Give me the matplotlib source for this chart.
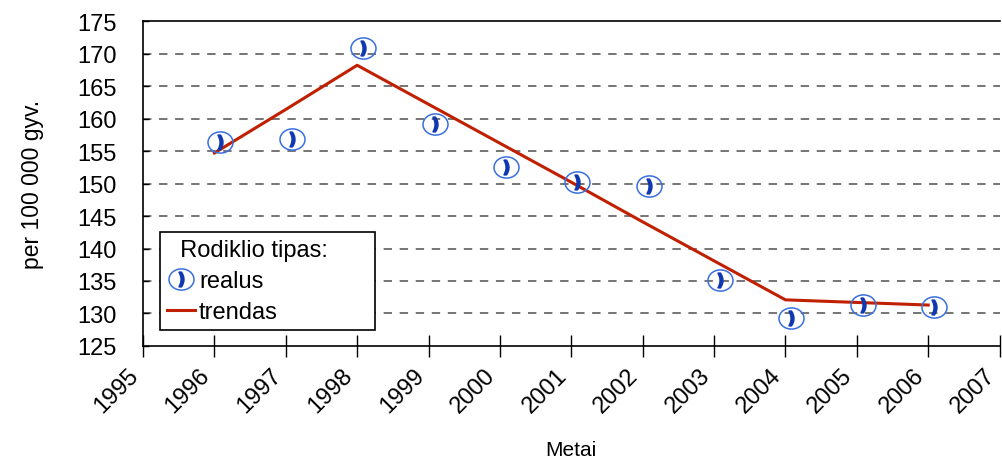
import numpy as np
import matplotlib.pyplot as plt
import matplotlib.transforms as mtransforms
from matplotlib.path import Path

plt.rcParams['font.family'] = ['Liberation Sans', 'DejaVu Sans']

# data
years = [1996, 1997, 1998, 1999, 2000, 2001, 2002, 2003, 2004, 2005, 2006]
realus = [156.4, 156.8, 170.8, 159.2, 152.5, 150.2, 149.6, 135.2, 129.3, 131.3, 131.0]
trendas = [154.7, 161.4, 168.2, 162.2, 156.2, 150.2, 144.1, 138.1, 132.1, 131.7, 131.3]
xticks = list(range(1995, 2008))
yticks = list(range(125, 180, 5))

fig = plt.figure(figsize=(10.03, 4.6), dpi=100)
ax = fig.add_axes([0.1426, 0.2457, 0.854, 0.7063])

# dashed horizontal grid
for yv in yticks[1:-1]:
    ax.axhline(yv, color='#505050', lw=1.1, ls=(0, (5.5, 5)), zorder=1)

ln, = ax.plot(years, trendas, color='#c02000', lw=2.2, zorder=2)

# phone-in-ellipse marker: a flat ellipse outline plus a bold handset
ellipse = Path.unit_circle().transformed(mtransforms.Affine2D().scale(1.18, 1.0))
# the symbols sit a little right of the year in the original
shift = mtransforms.ScaledTranslation(0.06, 0, fig.dpi_scale_trans)
m1, = ax.plot(years, realus, ls='none', marker=ellipse, ms=18, mfc='none',
              mec='#3a6fe0', mew=1.1, zorder=3, transform=ax.transData + shift)
m2, = ax.plot(years, realus, ls='none', marker=r'$\mathbf{)}$', ms=10.5,
              color='#1038b0', mew=1.2, zorder=4, transform=ax.transData + shift)

ax.set_xlim(1995, 2007)
ax.set_ylim(125, 175)
ax.set_xticks(xticks)
ax.set_xticklabels([str(x) for x in xticks], rotation=45, ha='right',
                   va='top', fontsize=17)
ax.set_yticks(yticks)
ax.set_yticklabels([str(y) for y in yticks], fontsize=17)
ax.tick_params(axis='x', direction='inout', length=16, width=1, pad=5)
ax.tick_params(axis='y', direction='in', length=4, width=1, pad=19)
ax.spines['right'].set_visible(False)
for s in ['left', 'top', 'bottom']:
    ax.spines[s].set_linewidth(1.2)

ax.set_xlabel('Metai', fontsize=15, labelpad=17)
ax.set_ylabel('per 100 000 gyv.', fontsize=16.5, labelpad=24)

leg = ax.legend([(m1, m2), ln], ['realus', 'trendas'],
                title='  Rodiklio tipas:      ',
                loc='lower left', bbox_to_anchor=(0.0198, 0.049),
                borderaxespad=0, fontsize=17, title_fontsize=17,
                fancybox=False, edgecolor='black', framealpha=1,
                handlelength=1.2, handletextpad=0.15, borderpad=0.3,
                labelspacing=0.38, alignment='left')
leg.get_frame().set_linewidth(1.2)

fig.savefig('out.png', dpi=100)
